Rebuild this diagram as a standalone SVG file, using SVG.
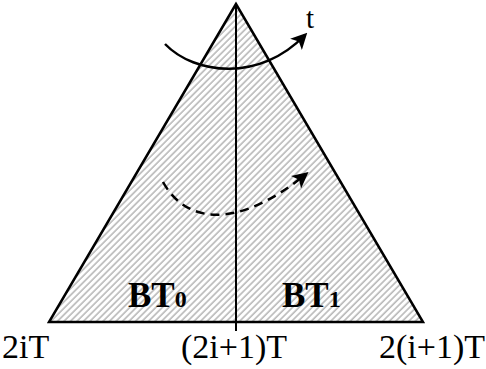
<svg xmlns="http://www.w3.org/2000/svg" width="486" height="369" viewBox="0 0 486 369">
<defs>
<pattern id="hatch" width="4.6" height="4.6" patternUnits="userSpaceOnUse" patternTransform="rotate(45)">
<line x1="1" y1="0" x2="1" y2="4.6" stroke="#a8a8a8" stroke-width="1.3"/>
</pattern>
<marker id="ah" viewBox="0 0 10 10" refX="8" refY="5" markerWidth="6.5" markerHeight="6.5" orient="auto" markerUnits="strokeWidth">
<path d="M0,0 L10,5 L0,10 L2.5,5 Z" fill="#000"/>
</marker>
<style>
.lbl{font-family:"Liberation Serif","Times New Roman",serif;font-size:34px;fill:#000}
.bt{font-family:"Liberation Serif","Times New Roman",serif;font-weight:bold;font-size:35px;fill:#000}
.sub{font-size:24px}
.edge{stroke:#000;stroke-width:2.5;fill:none}
</style>
</defs>
<g id="triangle">
<polygon points="236,4 49,322 423,322" fill="#fff"/>
<polygon points="236,4 49,322 423,322" class="edge" style="fill:url(#hatch)"/>
</g>
<g id="divider">
<line x1="236" y1="4" x2="236" y2="331" stroke="#000" stroke-width="2"/>
</g>
<g id="connectors">
<path d="M165,44 C195,75 260,82 305,35" class="edge" stroke-width="2.2" marker-end="url(#ah)"/>
<path d="M163,182 C185,222 235,232 306,174" class="edge" stroke-width="2.5" stroke-dasharray="9,6" marker-end="url(#ah)"/>
</g>
<g id="label-t"><text class="lbl" x="306" y="28" style="font-size:29px">t</text></g>
<g id="BT0"><text class="bt" x="128" y="307">BT<tspan class="sub">0</tspan></text></g>
<g id="BT1"><text class="bt" x="282" y="307">BT<tspan class="sub">1</tspan></text></g>
<g id="label-2iT"><text class="lbl" x="2" y="358">2iT</text></g>
<g id="label-mid"><text class="lbl" x="234" y="358" text-anchor="middle">(2i+1)T</text></g>
<g id="label-end"><text class="lbl" x="485" y="358" text-anchor="end">2(i+1)T</text></g>
</svg>
